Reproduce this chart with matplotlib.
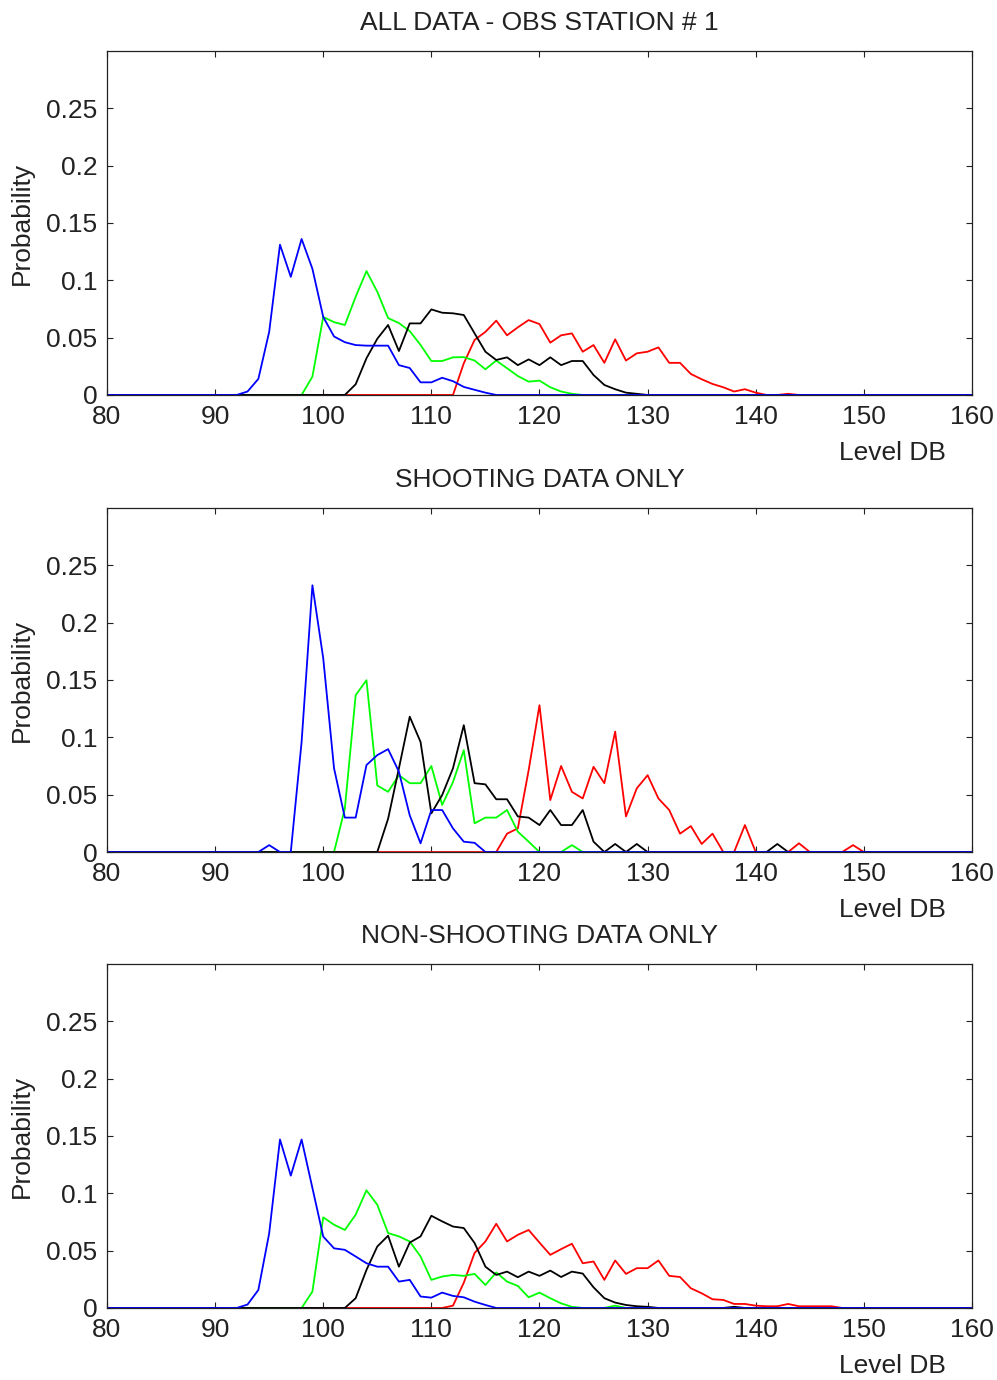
import numpy as np
import matplotlib
matplotlib.use('Agg')
import matplotlib.pyplot as plt

# dB levels on the x axis, 1 dB bins
levels = np.arange(80, 161)

# --- ALL DATA (values start at the given level, zero elsewhere) ---
blue_all_start = 92
blue_all = [0, .003, .014, .055, .131, .103, .136, .11, .068, .051, .046, .0435, .043,
            .043, .043, .026, .0235, .011, .011, .015, .012, .007, .0045, .002, 0]
green_all_start = 98
green_all = [0, .016, .068, .0635, .061, .0856, .108, .09, .067, .0627, .0557, .0436,
             .0296, .0296, .0328, .033, .030, .0224, .030, .0233, .0165, .0116, .0125,
             .0067, .003, .001, 0]
black_all_start = 102
black_all = [0, .0093, .032, .049, .061, .0383, .0624, .0624, .0746, .0717, .0712, .0697,
             .0537, .0377, .0305, .0328, .026, .031, .026, .0328, .026, .0296, .0296,
             .0174, .0087, .005, .002, .001, 0]
red_all_start = 112
red_all = [0, .0276, .048, .055, .0648, .052, .059, .0653, .0618, .0456, .052, .0537,
           .0377, .0435, .028, .0485, .030, .0363, .0377, .0415, .028, .028, .0183, .0137,
           .0096, .0067, .003, .005, .002, 0, 0, .001, 0]

# --- SHOOTING DATA ONLY ---
blue_shoot_start = 94
blue_shoot = [0, .006, 0, 0, .096, .2326, .169, .073, .030, .030, .0758, .0845, .0897,
              .070, .032, .0076, .0366, .0366, .0206, .009, .008, 0]
green_shoot_start = 101
green_shoot = [0, .038, .1368, .1498, .058, .0525, .067, .060, .060, .075, .041, .061,
               .0888, .025, .030, .030, .0366, .0177, .009, 0, 0, 0, .006, 0]
black_shoot_start = 105
black_shoot = [0, .029, .073, .118, .096, .0337, .0497, .073, .1106, .060, .059, .046,
               .046, .031, .030, .0235, .0366, .0235, .0235, .0366, .009, 0, .007, 0,
               .007, 0, 0, 0, 0, 0, 0, 0, 0, 0, 0, 0, 0, .007, 0]
red_shoot_start = 116
red_shoot = [0, .016, .0206, .0714, .128, .0453, .075, .0525, .0467, .0743, .060, .105,
             .031, .0555, .067, .0467, .0366, .016, .0226, .007, .016, 0, 0, .0235, 0,
             0, 0, 0, .0076, 0, 0, 0, 0, .006, 0]

# --- NON-SHOOTING DATA ONLY ---
blue_non_start = 92
blue_non = [0, .003, .0157, .065, .1469, .1154, .1469, .1046, .0623, .052, .0507, .0449,
            .039, .036, .036, .023, .0245, .010, .009, .0134, .0105, .0093, .0055, .0026, 0]
green_non_start = 98
green_non = [0, .0143, .079, .0726, .068, .0813, .1026, .090, .0653, .0624, .058, .0449,
             .0245, .0274, .0288, .028, .0297, .020, .031, .023, .0192, .0093, .0134,
             .0085, .004, .001, 0, 0, 0, .002, 0]
black_non_start = 102
black_non = [0, .0085, .0332, .0536, .063, .036, .057, .0624, .0804, .0755, .071, .0697,
             .0566, .036, .0288, .0317, .0268, .0317, .028, .0326, .027, .0317, .030,
             .018, .0085, .0047, .0026, .0015, .001, 0, 0, 0, 0, 0, 0, 0, .001, 0]
red_non_start = 111
red_non = [0, .002, .022, .048, .058, .0734, .058, .0638, .068, .057, .0463, .0513, .056,
           .039, .0405, .0245, .0414, .0297, .0347, .0347, .0414, .028, .027, .0172,
           .0128, .0076, .007, .0035, .0035, .002, .0015, .0015, .0035, .0015, .0015,
           .0015, .0015, 0]

titles = ['ALL DATA - OBS STATION # 1', 'SHOOTING DATA ONLY', 'NON-SHOOTING DATA ONLY']
xticks = [80, 90, 100, 110, 120, 130, 140, 150, 160]
yticks = [0, 0.05, 0.1, 0.15, 0.2, 0.25]
ytick_labels = ['0', '0.05', '0.1', '0.15', '0.2', '0.25']


def full(start, vals):
    # place a series on the full 80..160 level grid
    y = np.zeros(len(levels))
    i = start - levels[0]
    y[i:i + len(vals)] = vals
    return y


panels = [
    [(red_all_start, red_all), (green_all_start, green_all),
     (black_all_start, black_all), (blue_all_start, blue_all)],
    [(red_shoot_start, red_shoot), (green_shoot_start, green_shoot),
     (black_shoot_start, black_shoot), (blue_shoot_start, blue_shoot)],
    [(red_non_start, red_non), (green_non_start, green_non),
     (black_non_start, black_non), (blue_non_start, blue_non)],
]
colors = ['#ff0000', '#00ff00', '#000000', '#0000ff']

plt.rcParams['font.family'] = ['Liberation Sans', 'DejaVu Sans']
plt.rcParams['font.size'] = 19

fig = plt.figure(figsize=(9.97, 13.8), dpi=100)
bottoms = [0.7138, 0.3826, 0.0522]

for k in range(3):
    ax = fig.add_axes([0.1073, bottoms[k], 0.8676, 0.2493])
    for (start, vals), c in zip(panels[k], colors):
        ax.plot(levels, full(start, vals), color=c, linewidth=1.3)
    ax.set_xlim(80, 160)
    ax.set_ylim(0, 0.3)
    ax.set_xticks(xticks)
    ax.set_yticks(yticks)
    ax.set_yticklabels(ytick_labels)
    ax.tick_params(direction='in', top=True, right=True, length=4.5, width=0.8,
                   pad=7, colors='#222222', labelcolor='#222222')
    for s in ax.spines.values():
        s.set_linewidth(0.9)
        s.set_color('#222222')
    ax.set_title(titles[k], fontsize=19, pad=15, color='#222222')
    ax.text(-0.098, 0.5, 'Probability', rotation=90, transform=ax.transAxes,
            ha='center', va='center', fontsize=19, color='#222222')
    ax.text(0.908, -0.169, 'Level DB', transform=ax.transAxes,
            ha='center', va='center', fontsize=19, color='#222222')

plt.savefig('out.png', dpi=100)
plt.close()
